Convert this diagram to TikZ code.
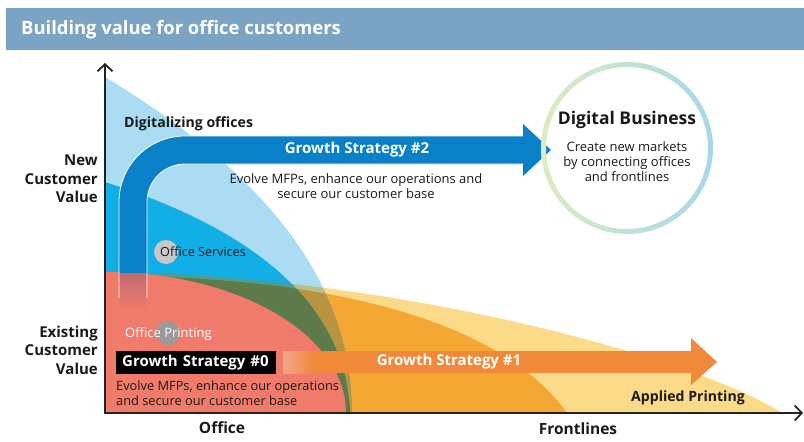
\documentclass[tikz,border=0pt]{standalone}
\usepackage{fontspec}
\setmainfont{Open Sans}
\usepackage{tikz}
\usetikzlibrary{arrows.meta,positioning,calc}
\definecolor{bvtitle}{HTML}{7BA3C4}
\definecolor{bvink}{HTML}{1A1A1A}
\definecolor{bvaxis}{HTML}{222222}
\definecolor{bvlight}{HTML}{ABDCF4}
\definecolor{bvmid}{HTML}{12AEE6}
\definecolor{bvred}{HTML}{F07B6B}
\definecolor{bvorange}{HTML}{F5A733}
\definecolor{bvyellow}{HTML}{FBDA88}
\definecolor{bvgreen}{HTML}{5E7A4B}
\definecolor{bvteal}{HTML}{4E9E8C}
\definecolor{bvkhaki}{HTML}{B7C08B}
\definecolor{bvochre}{HTML}{B8943E}
\definecolor{bvband}{HTML}{0A80C8}
\definecolor{bvbandfade}{HTML}{C06A72}
\definecolor{bvarrow}{HTML}{F08A3A}
\definecolor{bvarrowfade}{HTML}{F2A48A}
\definecolor{bvringl}{HTML}{DDEBC2}
\definecolor{bvringr}{HTML}{A6D8E6}
\definecolor{bvdot}{HTML}{C8C8C8}
\definecolor{bvdotdark}{HTML}{9A9A9A}
\tikzset{
  bv/title/.style={text=white, font=\bfseries\fontsize{18.4}{22}\selectfont, inner sep=0, anchor=west},
  bv/axis/.style={draw=bvaxis, line width=1.8pt,
    {Straight Barb[length=7pt, width=15pt]}-{Straight Barb[length=7pt, width=15pt]}},
  bv/value/.style={text=bvink, font=\bfseries\fontsize{15}{18.5}\selectfont, align=right, inner sep=0, anchor=east},
  bv/head/.style={text=bvink, font=\bfseries\fontsize{15.5}{18}\selectfont, inner sep=0},
  bv/tag/.style={text=bvink, font=\bfseries\fontsize{14.1}{16}\selectfont, inner sep=0},
  bv/band/.style={text=white, font=\bfseries\fontsize{15}{18}\selectfont, inner sep=0},
  bv/note/.style={text=bvink, font=\fontsize{13}{15}\selectfont, align=center, inner sep=0},
  bv/dot/.style={circle, minimum size=24pt, inner sep=0}
}
% outlines of the value areas
\newcommand\bvlightpath{(105,413) -- (105,77) .. controls (250,165) and (352,270) .. (352,413) -- cycle}
\newcommand\bvmidpath{(105,413) -- (105,182) .. controls (230,222) and (345,290) .. (350,413) -- cycle}
\newcommand\bvorangepath{(105,413) -- (105,276) .. controls (330,276) and (500,320) .. (567,413) -- cycle}
\newcommand\bvyellowpath{(105,413) -- (105,272) .. controls (400,275) and (700,360) .. (782,413) -- cycle}
\begin{document}
\begin{tikzpicture}[x=1pt, y=-1pt]
  \useasboundingbox (0,0) rectangle (804,442);
  % header
  \fill[bvtitle] (6,8) rectangle (804,50);
  \node[bv/title] (title) at (21,30) {Building value for office customers};

  % value areas
  \fill[bvyellow] \bvyellowpath;
  \fill[bvorange] \bvorangepath;
  \fill[bvlight] \bvlightpath;
  \begin{scope}
    \clip \bvlightpath;
    \fill[bvkhaki] \bvyellowpath;
    \fill[bvochre] \bvorangepath;
  \end{scope}
  \fill[bvmid] \bvmidpath;
  \begin{scope}
    \clip \bvmidpath;
    \fill[bvteal] \bvyellowpath;
    \fill[bvgreen] \bvorangepath;
  \end{scope}
  \fill[bvred] (105,413) -- (105,272)
    arc[start angle=270, end angle=360, x radius=241, y radius=141] -- cycle;

  % growth strategy #2
  \fill[bvband] (119,273) -- (119,202) arc[start angle=180, end angle=270, radius=66]
    -- (523,136) -- (523,124) -- (551,150) -- (523,176) -- (523,164)
    -- (185,164) arc[start angle=270, end angle=180, radius=38] -- (147,273) -- cycle;
  \shade[top color=bvbandfade, bottom color=bvred] (119,273) rectangle (147,310);
  \draw[white, line width=0.8pt] (119,298) -- (119,202)
    arc[start angle=180, end angle=270, radius=66] -- (523,136);
  \draw[white, line width=0.8pt] (523,164) -- (185,164)
    arc[start angle=270, end angle=180, radius=38] -- (147,298);
  \node[bv/band] (gs2) at (357,150) {Growth Strategy \#2};
  \node[bv/tag, anchor=west] (digitalizing) at (124,124) {Digitalizing offices};
  \node[bv/note] (gs2note) at (356,186) {Evolve MFPs, enhance our operations and\\secure our customer base};

  % growth strategy #1
  \shade[left color=bvarrowfade, right color=bvarrow] (283,351) rectangle (314,373);
  \fill[bvarrow] (313,351) -- (691,351) -- (691,338) -- (717,362) -- (691,385)
    -- (691,373) -- (313,373) -- cycle;
  \node[bv/band] (gs1) at (449,362) {Growth Strategy \#1};

  % growth strategy #0
  \node[fill=black, text=white, font=\bfseries\fontsize{15}{18}\selectfont, anchor=west,
    inner xsep=6pt, inner ysep=0, minimum height=23pt, text width=148pt] (gs0) at (116,362.5)
    {Growth Strategy \#0};
  \node[bv/note, align=left, anchor=west, font=\fontsize{12.8}{15.2}\selectfont] (gs0note) at (116,393)
    {Evolve MFPs, enhance our operations\\and secure our customer base};

  % markets
  \node[bv/dot, fill=bvdot] (svcdot) at (166,252) {};
  \node[bv/note, anchor=west, font=\fontsize{12.6}{15}\selectfont] (svc) at (160,252) {Office Services};
  \node[bv/dot, fill=bvdotdark] (prtdot) at (168,333) {};
  \node[bv/note, text=white, anchor=west] (prt) at (125,334) {Office Printing};
  \node[bv/tag] (applied) at (688,398) {Applied Printing};

  % digital business
  \shade[left color=bvringl, right color=bvringr, even odd rule]
    (627,148) circle (86) (627,148) circle (81);
  \node[bv/head, font=\bfseries\fontsize{17.5}{20}\selectfont] (digital) at (627,120) {Digital Business};
  \node[bv/note] (digitalnote) at (627,162) {Create new markets\\by connecting offices\\and frontlines};

  % axes
  \coordinate (origin) at (105,413);
  \coordinate (ytop) at (105,63);
  \coordinate (xend) at (803,413);
  \draw[bv/axis] (ytop) -- (origin) -- (xend);
  \node[bv/value] (newvalue) at (98,179) {New\\Customer\\Value};
  \node[bv/value] (oldvalue) at (98,350) {Existing\\Customer\\Value};
  \node[bv/head] (office) at (222,428) {Office};
  \node[bv/head] (frontlines) at (578,429) {Frontlines};
\end{tikzpicture}
\end{document}
